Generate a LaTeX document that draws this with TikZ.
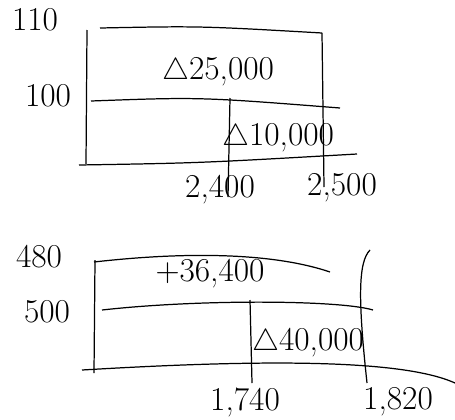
\documentclass[tikz,border=0pt]{standalone}
\usepackage{amssymb}
\begin{document}
\begin{tikzpicture}[x=0.02cm, y=-0.02cm, line width=0.7pt,
  lbl/.style={font=\fontsize{19}{22}\selectfont, inner sep=1pt}]
\useasboundingbox (0,0) rectangle (455,419);

% upper chart
\draw (87,30) -- (86,164);
\draw (100,28) .. controls (200,26) .. (322,33);
\draw (322,33) -- (324,187);
\draw (91,101) .. controls (200,97) .. (340,108);
\draw (79,165) .. controls (200,163) .. (357,154);
\draw (230,98) -- (228,197);

\node[lbl] (yA) at (35,20) {110};
\node[lbl] (yB) at (48,96) {100};
\node[lbl] (dPrice) at (218,72) {$\triangle$25,000};
\node[lbl] (dQty) at (278,138) {$\triangle$10,000};
\node[lbl] (xA) at (220,190) {2,400};
\node[lbl] (xB) at (342,188) {2,500};

% lower chart
\draw (95,260) -- (94,373);
\draw (94,262) .. controls (200,250) and (280,255) .. (330,272);
\draw (102,310) .. controls (200,299) and (340,300) .. (373,310);
\draw (82,370) .. controls (250,360) and (400,358) .. (455,383);
\draw (250,300) -- (252,383);
\draw (370,250) .. controls (358,262) and (358,300) .. (367,383);

\node[lbl] (yC) at (39,257) {480};
\node[lbl] (yD) at (47,312) {500};
\node[lbl] (dRate) at (210,274) {+36,400};
\node[lbl] (dHours) at (308,343) {$\triangle$40,000};
\node[lbl] (xC) at (245,402) {1,740};
\node[lbl] (xD) at (398,402) {1,820};
\end{tikzpicture}
\end{document}
